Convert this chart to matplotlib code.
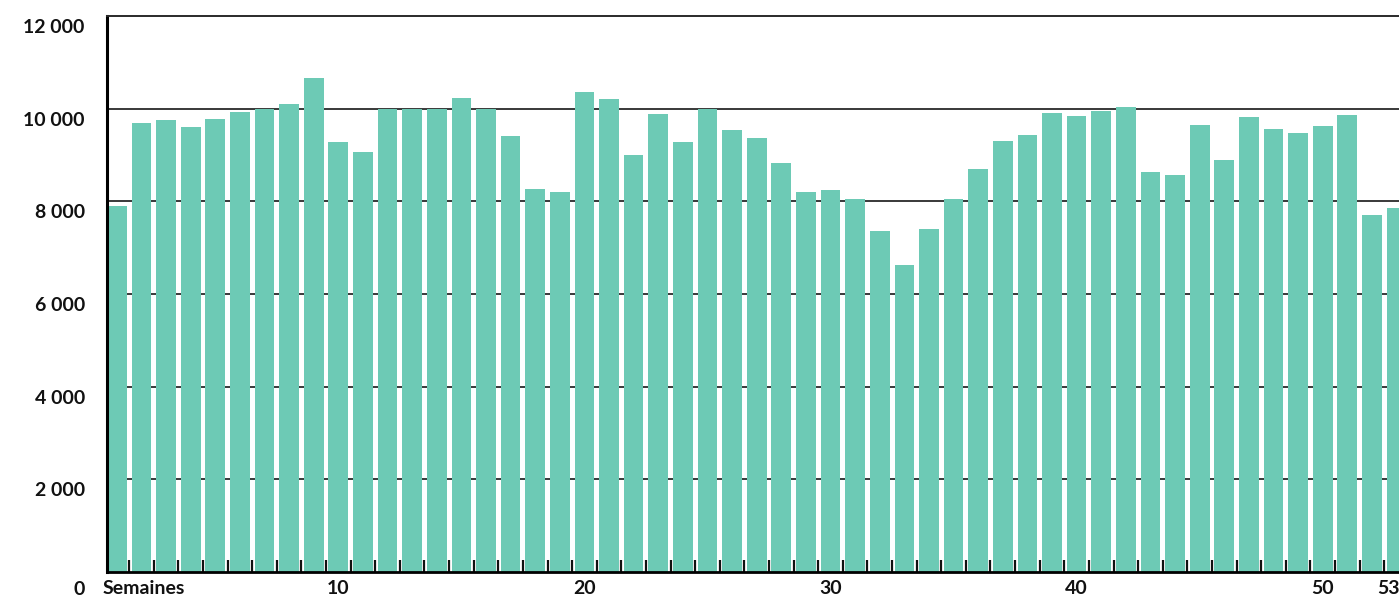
import matplotlib
matplotlib.use("Agg")
import matplotlib.pyplot as plt
import matplotlib.transforms as mtransforms
import numpy as np

# ------------------------------------------------------------------
#  DATA
# ------------------------------------------------------------------
weeks = np.arange(1, 54)
values = [7900, 9700, 9750, 9600, 9770, 9920, 9990, 10110, 10660, 9290,
          9060, 9990, 10000, 9990, 10240, 9990, 9400, 8260, 8210, 10360,
          10210, 8990, 9880, 9270, 10000, 9540, 9360, 8820, 8200, 8250,
          8060, 7370, 6620, 7400, 8060, 8690, 9310, 9430, 9900, 9850,
          9960, 10040, 8630, 8560, 9640, 8900, 9810, 9570, 9470, 9620,
          9860, 7700, 7850]

y_ticks = [0, 2000, 4000, 6000, 8000, 10000, 12000]
y_labels = ['0', '2 000', '4 000', '6 000', '8 000', '10 000', '12 000']
x_ticks = [0.6, 10, 20, 30, 40, 50, 53]
x_labels = ['Semaines', '10', '20', '30', '40', '50', '53']

bar_color = '#6dcab5'

# ------------------------------------------------------------------
#  PLOT
# ------------------------------------------------------------------
plt.rcParams['font.family'] = ['Lato', 'DejaVu Sans']

fig = plt.figure(figsize=(13.99, 5.98), dpi=100)
W, H = 1399.0, 598.0
ax = fig.add_axes([107 / W, 26 / H, (W - 107) / W, (572 - 16) / H])

ax.bar(weeks, values, width=0.8, color=bar_color, zorder=2)

ax.set_xlim(0.6, 53.1)
ax.set_ylim(0, 12000)

# grid lines behind the bars
for v in y_ticks[1:-1]:
    ax.axhline(v, color='#2a2a2a', linewidth=1.3, zorder=1)

ax.spines['right'].set_visible(False)
ax.spines['left'].set_linewidth(2.2)
ax.spines['bottom'].set_linewidth(2.0)
ax.spines['top'].set_linewidth(1.4)
ax.spines['top'].set_color('#2a2a2a')
for s in ax.spines.values():
    s.set_zorder(3)

# y axis
ax.set_yticks(y_ticks)
ax.set_yticklabels(y_labels, fontsize=14, fontweight='bold', color='#111111')
ax.tick_params(axis='y', length=0, pad=16)
for lab in ax.get_yticklabels():
    dy = -16 if lab.get_text() == '0' else -10
    lab.set_transform(lab.get_transform() +
                      mtransforms.ScaledTranslation(0, dy / 100, fig.dpi_scale_trans))

# x axis
ax.set_xticks(x_ticks)
ax.set_xticklabels(x_labels, fontsize=14, fontweight='bold', color='#111111')
ax.tick_params(axis='x', which='major', length=0, pad=6)
xlabs = ax.get_xticklabels()
xlabs[0].set_ha('left')
xlabs[0].set_transform(xlabs[0].get_transform() +
                       mtransforms.ScaledTranslation(-4 / 100, 0, fig.dpi_scale_trans))
xlabs[-1].set_transform(xlabs[-1].get_transform() +
                        mtransforms.ScaledTranslation(-8 / 100, 0, fig.dpi_scale_trans))

ax.set_xticks(weeks[:-1] + 0.5, minor=True)
ax.tick_params(axis='x', which='minor', direction='in', length=9,
               width=1.6, color='#111111')

fig.savefig('out.png', dpi=100)
